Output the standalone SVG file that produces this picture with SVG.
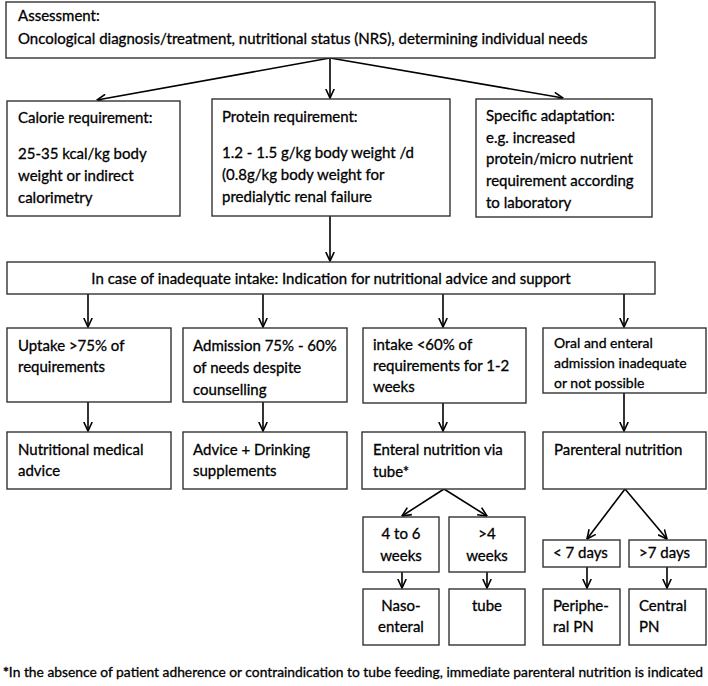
<svg xmlns="http://www.w3.org/2000/svg" width="708" height="686" viewBox="0 0 708 686">
<defs>
<marker id="arr" viewBox="0 0 10 10" refX="9.5" refY="5" markerWidth="10" markerHeight="10" markerUnits="userSpaceOnUse" orient="auto">
<path d="M0.5,0.8 L9.5,5 L0.5,9.2" fill="none" stroke="#000" stroke-width="1.6"/>
</marker>
<style>
rect{fill:#fff;stroke:#333;stroke-width:1.4}
text{font-family:Lato,"Liberation Sans",sans-serif;font-size:15px;fill:#000;stroke:#000;stroke-width:0.3}
.c{text-anchor:middle}
.s{font-size:14px}
.f{font-size:13.5px}
#edges line{stroke:#000;stroke-width:1.6;marker-end:url(#arr)}
</style>
</defs>
<rect x="0" y="0" width="708" height="686" style="fill:#fff;stroke:none"/>
<g id="edges">
<line x1="330" y1="58" x2="97" y2="100"/>
<line x1="330" y1="58" x2="330" y2="98"/>
<line x1="330" y1="58" x2="563" y2="98"/>
<line x1="330" y1="216" x2="330" y2="261"/>
<line x1="88" y1="294" x2="88" y2="327"/>
<line x1="263" y1="294" x2="263" y2="327"/>
<line x1="443" y1="294" x2="443" y2="327"/>
<line x1="624" y1="294" x2="624" y2="327"/>
<line x1="88" y1="402" x2="88" y2="431"/>
<line x1="263" y1="402" x2="263" y2="431"/>
<line x1="443" y1="403" x2="443" y2="431"/>
<line x1="624" y1="393" x2="624" y2="431"/>
<line x1="444" y1="489" x2="402" y2="516"/>
<line x1="444" y1="489" x2="487" y2="516"/>
<line x1="625" y1="489" x2="587" y2="539"/>
<line x1="625" y1="489" x2="667" y2="539"/>
<line x1="402" y1="572" x2="402" y2="588"/>
<line x1="487" y1="572" x2="487" y2="588"/>
<line x1="587" y1="567" x2="587" y2="588"/>
<line x1="667" y1="567" x2="667" y2="588"/>
</g>
<g id="assessment"><rect x="6" y="2" width="649" height="56"/>
<text x="18" y="21">Assessment:</text>
<text x="18" y="44">Oncological diagnosis/treatment, nutritional status (NRS), determining individual needs</text></g>
<g id="calorie"><rect x="7" y="101" width="173" height="115"/>
<text x="18" y="123">Calorie requirement:</text>
<text x="18" y="159">25-35 kcal/kg body</text>
<text x="18" y="181">weight or indirect</text>
<text x="18" y="203">calorimetry</text></g>
<g id="protein"><rect x="212" y="99" width="238" height="117"/>
<text x="222" y="122">Protein requirement:</text>
<text x="222" y="158">1.2 - 1.5 g/kg body weight /d</text>
<text x="222" y="180">(0.8g/kg body weight for</text>
<text x="222" y="202">predialytic renal failure</text></g>
<g id="specific"><rect x="476" y="99" width="176" height="118"/>
<text x="486" y="121">Specific adaptation:</text>
<text x="486" y="143">e.g. increased</text>
<text x="486" y="164">protein/micro nutrient</text>
<text x="486" y="186">requirement according</text>
<text x="486" y="208">to laboratory</text></g>
<g id="inadequate"><rect x="7" y="262" width="648" height="32"/>
<text class="c" x="331" y="284">In case of inadequate intake: Indication for nutritional advice and support</text></g>
<g id="uptake"><rect x="7" y="328" width="164" height="74"/>
<text x="18" y="351">Uptake &gt;75% of</text>
<text x="18" y="372">requirements</text></g>
<g id="admission"><rect x="183" y="328" width="164" height="74"/>
<text x="193" y="351">Admission 75% - 60%</text>
<text x="193" y="373">of needs despite</text>
<text x="193" y="395">counselling</text></g>
<g id="intake"><rect x="363" y="328" width="163" height="75"/>
<text x="373" y="350">intake &lt;60% of</text>
<text x="373" y="371">requirements for 1-2</text>
<text x="373" y="392">weeks</text></g>
<g id="oral"><rect x="543" y="328" width="163" height="65"/>
<text class="s" x="554" y="348">Oral and enteral</text>
<text class="s" x="554" y="368">admission inadequate</text>
<text class="s" x="554" y="388">or not possible</text></g>
<g id="nutritional"><rect x="7" y="432" width="164" height="57"/>
<text x="18" y="455">Nutritional medical</text>
<text x="18" y="476">advice</text></g>
<g id="advice"><rect x="183" y="432" width="164" height="57"/>
<text x="193" y="455">Advice + Drinking</text>
<text x="193" y="476">supplements</text></g>
<g id="enteral"><rect x="362" y="432" width="163" height="57"/>
<text x="373" y="455">Enteral nutrition via</text>
<text x="373" y="477">tube*</text></g>
<g id="parenteral"><rect x="543" y="432" width="163" height="57"/>
<text x="554" y="455">Parenteral nutrition</text></g>
<g id="w4to6"><rect x="363" y="517" width="76" height="55"/>
<text class="c" x="401" y="539">4 to 6</text>
<text class="c" x="401" y="561">weeks</text></g>
<g id="w4"><rect x="449" y="517" width="76" height="55"/>
<text class="c" x="487" y="539">&gt;4</text>
<text class="c" x="487" y="561">weeks</text></g>
<g id="lt7"><rect x="543" y="540" width="77" height="27"/>
<text x="553" y="558">&lt; 7 days</text></g>
<g id="gt7"><rect x="629" y="540" width="77" height="27"/>
<text x="639" y="558">&gt;7 days</text></g>
<g id="naso"><rect x="363" y="589" width="76" height="56"/>
<text class="c" x="401" y="611">Naso-</text>
<text class="c" x="401" y="632">enteral</text></g>
<g id="tube"><rect x="449" y="589" width="76" height="56"/>
<text class="c" x="487" y="611">tube</text></g>
<g id="peripheral"><rect x="543" y="589" width="77" height="56"/>
<text x="553" y="611">Periphe-</text>
<text x="553" y="632">ral PN</text></g>
<g id="central"><rect x="629" y="589" width="77" height="56"/>
<text x="639" y="611">Central</text>
<text x="639" y="632">PN</text></g>
<text class="f" x="3" y="677" textLength="700" lengthAdjust="spacingAndGlyphs"><tspan font-weight="bold">*</tspan>In the absence of patient adherence or contraindication to tube feeding, immediate parenteral nutrition is indicated</text>
</svg>
